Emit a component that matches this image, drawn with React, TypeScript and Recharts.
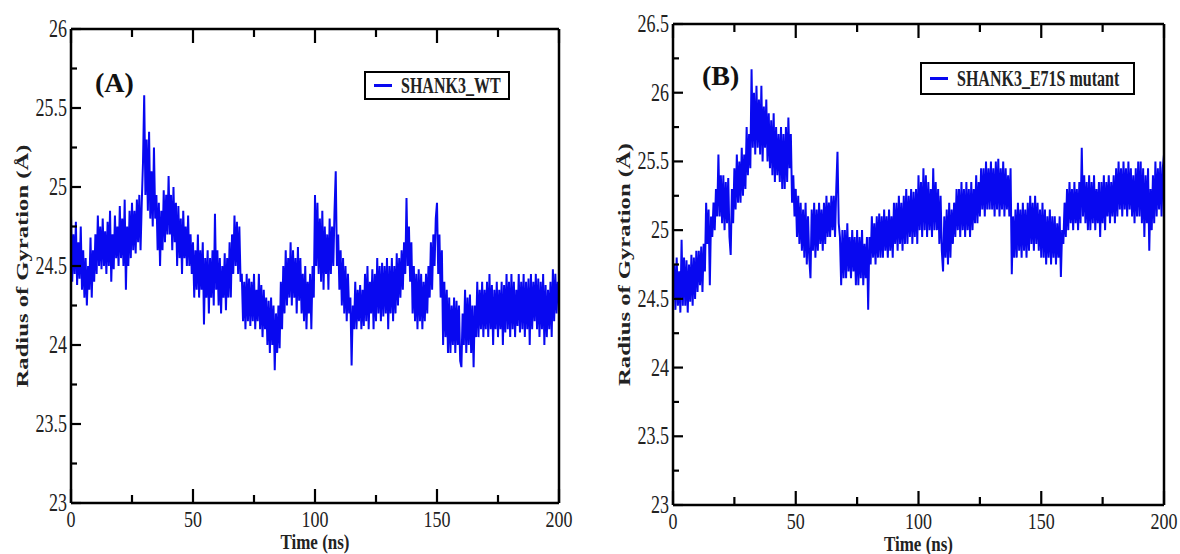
import React from "react"
import { LineChart, Line, XAxis, YAxis, Legend, Label } from "recharts"

// Rg traces at 0.5 ns steps (one row = 5 ns)
const timeNs = Array.from({ length: 401 }, (_, i) => i / 2)

const rgWT = [
  24.82, 24.4, 24.7, 24.45, 24.78, 24.38, 24.65, 24.42, 24.75, 24.35,
  24.6, 24.3, 24.55, 24.25, 24.5, 24.35, 24.68, 24.3, 24.6, 24.4,
  24.7, 24.45, 24.82, 24.5, 24.75, 24.48, 24.8, 24.5, 24.72, 24.45,
  24.78, 24.5, 24.85, 24.4, 24.7, 24.48, 24.82, 24.55, 24.75, 24.5,
  24.88, 24.55, 24.8, 24.5, 24.92, 24.35, 24.75, 24.5, 24.85, 24.55,
  24.9, 24.6, 24.85, 24.58, 24.92, 24.65, 24.95, 24.6, 24.9, 25.15,
  25.58, 24.95, 25.3, 24.85, 25.35, 24.8, 25.1, 24.75, 25.25, 24.8,
  24.95, 24.6, 24.9, 24.5, 24.85, 24.6, 24.98, 24.65, 24.95, 24.7,
  25.07, 24.7, 24.95, 24.6, 25.0, 24.65, 24.9, 24.5, 24.88, 24.55,
  24.8, 24.45, 24.85, 24.55, 24.75, 24.5, 24.82, 24.5, 24.7, 24.45,
  24.65, 24.3, 24.6, 24.35, 24.7, 24.3, 24.6, 24.35, 24.65, 24.13,
  24.55, 24.3, 24.6, 24.2, 24.55, 24.3, 24.6, 24.25, 24.83, 24.35,
  24.6, 24.25, 24.55, 24.2, 24.5, 24.3, 24.58, 24.22, 24.55, 24.3,
  24.65, 24.3, 24.7, 24.45, 24.82, 24.5, 24.78, 24.45, 24.75, 24.4,
  24.45, 24.15, 24.4, 24.1, 24.45, 24.15, 24.42, 24.12, 24.4, 24.15,
  24.45, 24.1, 24.35, 24.15, 24.45, 24.1, 24.38, 24.05, 24.35, 24.1,
  24.3, 24.0, 24.28, 23.95, 24.3, 24.0, 24.25, 23.84, 24.2, 23.95,
  24.25, 23.98, 24.4, 24.1, 24.5, 24.2, 24.6, 24.25, 24.55, 24.3,
  24.65, 24.25, 24.6, 24.3, 24.55, 24.2, 24.62, 24.28, 24.55, 24.2,
  24.45, 24.15, 24.5, 24.1, 24.4, 24.2, 24.45, 24.1, 24.5, 24.3,
  24.95, 24.5, 24.9, 24.45, 24.8, 24.4, 24.85, 24.35, 24.75, 24.45,
  24.7, 24.35, 24.8, 24.45, 24.75, 24.5, 24.85, 25.1, 24.5, 24.7,
  24.35, 24.6, 24.25, 24.55, 24.2, 24.5, 24.15, 24.45, 24.2, 24.3,
  23.87, 24.25, 24.1, 24.4, 24.1, 24.35, 24.15, 24.38, 24.1, 24.35,
  24.12, 24.45, 24.15, 24.5, 24.1, 24.4, 24.2, 24.48, 24.1, 24.45,
  24.15, 24.55, 24.2, 24.5, 24.15, 24.52, 24.18, 24.5, 24.2, 24.55,
  24.1, 24.5, 24.2, 24.55, 24.15, 24.5, 24.2, 24.58, 24.25, 24.55,
  24.3, 24.6, 24.35, 24.65, 24.45, 24.93, 24.5, 24.75, 24.4, 24.65,
  24.2, 24.5, 24.15, 24.45, 24.1, 24.48, 24.15, 24.45, 24.1, 24.4,
  24.15, 24.45, 24.2, 24.5, 24.3, 24.65, 24.35, 24.7, 24.5, 24.8,
  24.9, 24.45, 24.7, 24.3, 24.6, 24.0, 24.4, 24.05, 24.35, 23.95,
  24.3, 23.95, 24.25, 24.0, 24.3, 23.95, 24.28, 24.0, 24.25, 23.9,
  23.86, 24.2, 24.0, 24.35, 23.95, 24.3, 24.0, 24.32, 23.95, 24.25,
  23.86, 24.25, 24.05, 24.4, 24.05, 24.35, 24.1, 24.4, 24.05, 24.35,
  24.1, 24.4, 24.05, 24.45, 24.1, 24.38, 24.0, 24.35, 24.1, 24.4,
  24.05, 24.35, 24.1, 24.4, 24.0, 24.38, 24.08, 24.45, 24.1, 24.4,
  24.05, 24.45, 24.1, 24.4, 24.05, 24.35, 24.12, 24.45, 24.08, 24.4,
  24.1, 24.45, 24.05, 24.4, 24.1, 24.42, 24.0, 24.45, 24.1, 24.4,
  24.15, 24.45, 24.1, 24.42, 24.05, 24.4, 24.1, 24.45, 24.0, 24.38,
  24.05, 24.35, 24.1, 24.4, 24.05, 24.48, 24.15, 24.45, 24.2, 24.4,
  24.3,
]

const rgE71S = [
  24.5, 24.75, 24.42, 24.8, 24.45, 24.7, 24.4, 24.93, 24.45, 24.8,
  24.45, 24.78, 24.4, 24.75, 24.48, 24.82, 24.45, 24.8, 24.5, 24.85,
  24.55, 24.85, 24.6, 24.88, 24.55, 24.9, 24.7, 25.2, 24.9, 25.15,
  24.6, 25.1, 24.95, 25.2, 25.0, 25.3, 25.1, 25.55, 25.1, 25.4,
  25.05, 25.4, 25.0, 25.35, 25.05, 25.38, 24.95, 24.82, 25.3, 25.05,
  25.45, 25.15, 25.55, 25.2, 25.5, 25.2, 25.6, 25.25, 25.55, 25.3,
  25.75, 25.4, 25.7, 25.45, 26.17, 25.6, 26.0, 25.55, 26.05, 25.6,
  25.95, 25.55, 26.05, 25.5, 25.9, 25.6, 25.95, 25.5, 25.85, 25.45,
  25.8, 25.4, 25.85, 25.35, 25.75, 25.4, 25.7, 25.35, 25.75, 25.3,
  25.7, 25.3, 25.75, 25.35, 25.82, 25.45, 25.7, 25.2, 25.4, 25.1,
  25.3, 24.95, 25.25, 24.9, 25.2, 24.85, 25.15, 24.8, 25.2, 24.75,
  25.1, 24.8, 24.65, 25.15, 24.85, 25.2, 24.8, 25.15, 24.85, 25.2,
  24.9, 25.15, 24.85, 25.2, 24.9, 25.25, 24.95, 25.2, 24.95, 25.25,
  25.0, 25.25, 24.95, 25.3, 25.57, 25.05, 24.95, 24.6, 25.0, 24.65,
  25.0, 24.65, 25.05, 24.7, 24.95, 24.65, 25.0, 24.7, 24.95, 24.6,
  25.0, 24.6, 24.95, 24.65, 25.0, 24.6, 24.9, 24.65, 24.95, 24.42,
  24.95, 24.75, 25.1, 24.8, 25.05, 24.75, 25.1, 24.8, 25.12, 24.8,
  25.1, 24.8, 25.15, 24.85, 25.1, 24.8, 25.15, 24.85, 25.1, 24.8,
  25.2, 24.9, 25.2, 24.85, 25.25, 24.9, 25.2, 24.85, 25.25, 24.9,
  25.3, 24.9, 25.25, 24.95, 25.3, 24.9, 25.28, 24.95, 25.3, 24.9,
  25.4, 25.0, 25.35, 24.95, 25.45, 25.0, 25.4, 24.95, 25.35, 25.0,
  25.3, 24.95, 25.45, 25.0, 25.35, 25.0, 25.3, 24.9, 25.25, 24.85,
  24.7, 25.1, 24.8, 25.15, 24.75, 25.2, 24.8, 25.15, 24.9, 25.2,
  24.95, 25.3, 25.0, 25.3, 24.95, 25.35, 25.0, 25.3, 24.95, 25.35,
  25.0, 25.3, 24.95, 25.35, 25.0, 25.3, 25.05, 25.4, 25.05, 25.35,
  25.1, 25.45, 25.15, 25.45, 25.1, 25.5, 25.15, 25.45, 25.15, 25.5,
  25.15, 25.45, 25.1, 25.5, 25.15, 25.52, 25.1, 25.45, 25.15, 25.5,
  25.1, 25.45, 25.15, 25.4, 25.1, 25.45, 24.68, 25.1, 24.8, 25.15,
  24.8, 25.2, 24.85, 25.15, 24.8, 25.2, 24.85, 25.15, 24.8, 25.2,
  24.85, 25.25, 24.9, 25.2, 24.85, 25.25, 24.9, 25.2, 24.85, 25.15,
  24.8, 25.2, 24.8, 25.15, 24.75, 25.1, 24.8, 25.15, 24.75, 25.1,
  24.8, 25.1, 24.75, 25.05, 24.8, 25.1, 24.66, 25.0, 24.9, 25.2,
  24.95, 25.3, 25.0, 25.35, 25.05, 25.3, 25.0, 25.35, 25.05, 25.3,
  25.0, 25.35, 25.05, 25.6, 25.1, 25.4, 25.05, 25.35, 25.0, 25.4,
  25.0, 25.35, 25.05, 25.4, 25.0, 25.3, 25.05, 25.35, 24.95, 25.35,
  25.05, 25.4, 25.0, 25.35, 25.1, 25.4, 25.05, 25.35, 25.1, 25.4,
  25.05, 25.45, 25.1, 25.5, 25.15, 25.45, 25.1, 25.5, 25.15, 25.45,
  25.1, 25.5, 25.15, 25.45, 25.1, 25.4, 25.05, 25.45, 25.1, 25.5,
  25.1, 25.5, 25.05, 25.45, 24.95, 25.4, 25.05, 25.45, 24.85, 25.3,
  25.0, 25.4, 25.05, 25.5, 25.1, 25.45, 25.15, 25.5, 25.1, 25.45,
  25.55,
]

const xTicks = [0, 25, 50, 75, 100, 125, 150, 175, 200]
const xMajor = [0, 50, 100, 150, 200]
const yTicksA = [23, 23.25, 23.5, 23.75, 24, 24.25, 24.5, 24.75, 25, 25.25, 25.5, 25.75, 26]
const yTicksB = [23, 23.25, 23.5, 23.75, 24, 24.25, 24.5, 24.75, 25, 25.25, 25.5, 25.75, 26, 26.25, 26.5]
const yMajor = [23, 23.5, 24, 24.5, 25, 25.5, 26, 26.5]

const SERIF = '"Liberation Serif", "Times New Roman", serif'
const BLUE = "#0808f0"
const STRETCH = 1.35 // the figure is squashed sideways, so text looks tall

const YW = 60
const XH = 40

type Box = { l: number; r: number; t: number; b: number }

type PanelProps = {
  left: number
  data: { t: number; rg: number }[]
  name: string
  tag: string
  tagX: number
  tagY: number
  yDomain: [number, number]
  yTicks: number[]
  plot: Box
  legend: { x: number; y: number; w: number; h: number }
}

const W = 590
const H = 554

function Panel({ left, data, name, tag, tagX, tagY, yDomain, yTicks, plot, legend }: PanelProps) {
  const margin = {
    top: plot.t - 1,
    right: W - plot.r - 1,
    bottom: H - plot.b - XH,
    left: plot.l - YW,
  }

  const BottomTick = (p: any) => {
    const major = xMajor.includes(p.payload.value)
    return (
      <g>
        <line x1={p.x} x2={p.x} y1={plot.b} y2={plot.b - (major ? 14 : 8)} stroke="#000" strokeWidth={2.2} />
        {major && (
          <text
            transform={`translate(${p.x},${plot.b + 16}) scale(1,1.3)`}
            textAnchor="middle"
            dominantBaseline="central"
            fontFamily={SERIF}
            fontSize={18}
            fill="#222"
          >
            {p.payload.value}
          </text>
        )}
      </g>
    )
  }

  const TopTick = (p: any) => {
    const major = xMajor.includes(p.payload.value)
    return <line x1={p.x} x2={p.x} y1={plot.t} y2={plot.t + (major ? 14 : 8)} stroke="#000" strokeWidth={2.2} />
  }

  const LeftTick = (p: any) => {
    const major = yMajor.includes(p.payload.value)
    return (
      <g>
        <line x1={plot.l} x2={plot.l + (major ? 10 : 6)} y1={p.y} y2={p.y} stroke="#000" strokeWidth={2.2} />
        {major && (
          <text
            transform={`translate(${plot.l - 4},${p.y}) scale(1,${STRETCH})`}
            textAnchor="end"
            dominantBaseline="central"
            fontFamily={SERIF}
            fontSize={18}
            fill="#222"
          >
            {p.payload.value}
          </text>
        )}
      </g>
    )
  }

  const RightTick = (p: any) => {
    const major = yMajor.includes(p.payload.value)
    return <line x1={plot.r} x2={plot.r - (major ? 10 : 6)} y1={p.y} y2={p.y} stroke="#000" strokeWidth={2.2} />
  }

  const renderLegend = (props: any) => {
    const item = props.payload && props.payload[0]
    return (
      <div
        style={{
          boxSizing: "border-box",
          width: legend.w,
          height: legend.h,
          border: "2px solid #000",
          background: "#fff",
          display: "flex",
          alignItems: "center",
          paddingLeft: 8,
          fontFamily: SERIF,
          fontWeight: "bold",
          fontSize: 16,
          color: "#222",
          whiteSpace: "nowrap",
        }}
      >
        <span style={{ display: "inline-block", width: 18, height: 3, background: BLUE, marginRight: 9 }} />
        <span style={{ display: "inline-block", transform: "scaleY(1.45)" }}>{item ? item.value : name}</span>
      </div>
    )
  }

  const yMid = (plot.t + plot.b) / 2
  const xMid = (plot.l + plot.r) / 2

  return (
    <div style={{ position: "absolute", left, top: 0, width: W, height: H }}>
      <LineChart width={W} height={H} data={data} margin={margin}>
        <XAxis
          xAxisId="b"
          dataKey="t"
          type="number"
          domain={[0, 200]}
          ticks={xTicks}
          interval={0}
          height={XH}
          tick={BottomTick}
          tickLine={false}
          axisLine={{ stroke: "#000", strokeWidth: 2.5 }}
        >
          <Label
            value="Time (ns)"
            content={() => (
              <text
                transform={`translate(${xMid},${plot.b + 38.5}) scale(1,1.2)`}
                textAnchor="middle"
                dominantBaseline="central"
                fontFamily={SERIF}
                fontWeight="bold"
                fontSize={17}
                fill="#222"
              >
                Time (ns)
              </text>
            )}
          />
        </XAxis>
        <XAxis
          xAxisId="t"
          orientation="top"
          dataKey="t"
          type="number"
          domain={[0, 200]}
          ticks={xTicks}
          interval={0}
          height={1}
          tick={TopTick}
          tickLine={false}
          axisLine={{ stroke: "#000", strokeWidth: 2.5 }}
        />
        <YAxis
          yAxisId="l"
          type="number"
          domain={yDomain}
          ticks={yTicks}
          interval={0}
          width={YW}
          tick={LeftTick}
          tickLine={false}
          axisLine={{ stroke: "#000", strokeWidth: 2.5 }}
        >
          <Label
            value="Radius of Gyration (Å)"
            content={() => (
              <text
                transform={`translate(${plot.l - 49},${yMid}) rotate(-90) scale(1.45,1)`}
                textAnchor="middle"
                dominantBaseline="central"
                fontFamily={SERIF}
                fontWeight="bold"
                fontSize={17}
                fill="#222"
              >
                Radius of Gyration (Å)
              </text>
            )}
          />
        </YAxis>
        <YAxis
          yAxisId="r"
          orientation="right"
          type="number"
          domain={yDomain}
          ticks={yTicks}
          interval={0}
          width={1}
          tick={RightTick}
          tickLine={false}
          axisLine={{ stroke: "#000", strokeWidth: 2.5 }}
        />
        <Legend
          layout="vertical"
          align="center"
          verticalAlign="middle"
          content={renderLegend}
          wrapperStyle={{ left: legend.x, top: legend.y, width: legend.w, height: legend.h }}
        />
        <Line
          xAxisId="b"
          yAxisId="l"
          type="linear"
          dataKey="rg"
          name={name}
          stroke={BLUE}
          strokeWidth={2}
          dot={false}
          isAnimationActive={false}
        />
      </LineChart>
      <div
        style={{
          position: "absolute",
          left: tagX,
          top: tagY,
          transform: "translateY(-50%)",
          fontFamily: SERIF,
          fontWeight: "bold",
          fontSize: 28,
          color: "#111",
          lineHeight: 1,
        }}
      >
        {tag}
      </div>
    </div>
  )
}

export default function App() {
  const dataA = timeNs.map((t, i) => ({ t, rg: rgWT[i] }))
  const dataB = timeNs.map((t, i) => ({ t, rg: rgE71S[i] }))

  return (
    <div style={{ position: "absolute", left: 0, top: 0, width: 1180, height: 554, background: "#fff" }}>
      <Panel
        left={0}
        data={dataA}
        name="SHANK3_WT"
        tag="(A)"
        tagX={95}
        tagY={83}
        yDomain={[23, 26]}
        yTicks={yTicksA}
        plot={{ l: 71, r: 559, t: 29, b: 503 }}
        legend={{ x: 364, y: 71, w: 146, h: 29 }}
      />
      <Panel
        left={590}
        data={dataB}
        name="SHANK3_E71S mutant"
        tag="(B)"
        tagX={112}
        tagY={76}
        yDomain={[23, 26.5]}
        yTicks={yTicksB}
        plot={{ l: 83, r: 574, t: 24, b: 505 }}
        legend={{ x: 330, y: 62, w: 215, h: 33 }}
      />
    </div>
  )
}
